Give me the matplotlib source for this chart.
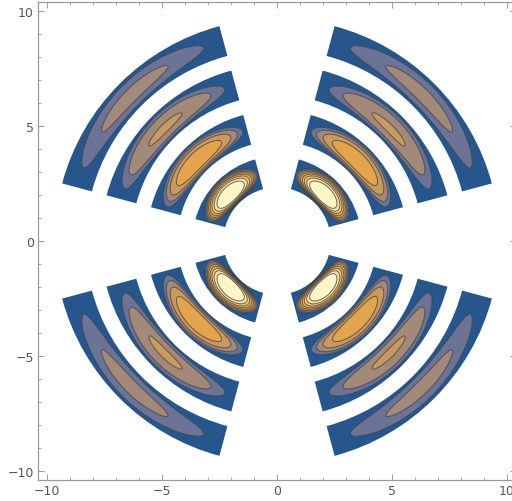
import numpy as np
import matplotlib
matplotlib.use("Agg")
import matplotlib.pyplot as plt
from matplotlib.colors import ListedColormap, BoundaryNorm
from matplotlib.patches import Wedge, PathPatch
from matplotlib.path import Path
from matplotlib.ticker import MultipleLocator

# ring edges (radius) and sector limits (degrees) of the plotted region
ring_center = [3.0, 5.0, 7.0, 9.0]
ring_inner = [2.33, 4.33, 6.33, 8.33]
ring_outer = [3.67, 5.67, 7.67, 9.67]
sector_start = [15, 105, 195, 285]
sector_span = 60

# contour levels and the fill colour of each band between them
levels = [0.0, 0.026, 0.052, 0.078, 0.104, 0.130, 0.156, 0.182, 0.208, 1.0]
fill_colors = ["#26568c", "#6b7396", "#a2897a", "#c99a60", "#e4a44d",
               "#efb258", "#f6c570", "#fbdf9e", "#fff6c8"]

ticks_major = [-10, -5, 0, 5, 10]
tick_text = ["\u221210", "\u22125", "0", "5", "10"]
lim = 10.39


def field(x, y):
    # flat-topped elliptic bump in every ring sector, fading with radius
    r = np.hypot(x, y)
    phi = np.degrees(np.arctan2(y, x)) % 90 - 45
    rc = np.asarray(ring_center)
    dr = r[..., None] - rc
    dr = np.take_along_axis(dr, np.abs(dr).argmin(axis=-1)[..., None], -1)[..., 0]
    rho = np.hypot(dr / 0.66, phi / 30.0)
    return np.clip(1 - rho ** 2.8, 0, None) / np.maximum(r, 0.5) ** 1.3


fig = plt.figure(figsize=(5.12, 5.02), dpi=100)
ax = fig.add_axes([38 / 512, 21 / 502, 478 / 512, 478 / 502])

g = np.linspace(-lim, lim, 1100)
X, Y = np.meshgrid(g, g)
Z = field(X, Y)

cmap = ListedColormap(fill_colors)
norm = BoundaryNorm(levels, cmap.N)
cf = ax.contourf(X, Y, Z, levels=levels, cmap=cmap, norm=norm, antialiased=True)
cl = ax.contour(X, Y, Z, levels=levels[1:-1], colors=[(0.18, 0.18, 0.2, 0.7)],
                linewidths=0.7)

# clip everything to the annular sectors
paths = []
for r0, r1 in zip(ring_inner, ring_outer):
    for a0 in sector_start:
        w = Wedge((0, 0), r1, a0, a0 + sector_span, width=r1 - r0)
        paths.append(w.get_path().transformed(w.get_patch_transform()))
clip = PathPatch(Path.make_compound_path(*paths), transform=ax.transData,
                 facecolor="none", edgecolor="none")
ax.add_patch(clip)
cf.set_clip_path(clip)
cl.set_clip_path(clip)

ax.set_xlim(-lim, lim)
ax.set_ylim(-lim, lim)
ax.set_aspect("equal")

ax.set_xticks(ticks_major)
ax.set_yticks(ticks_major)
ax.xaxis.set_minor_locator(MultipleLocator(1))
ax.yaxis.set_minor_locator(MultipleLocator(1))
ax.set_xticklabels(tick_text)
ax.set_yticklabels(tick_text)
ax.tick_params(which="both", direction="in", top=True, right=True,
               color="#9a9a9a", labelcolor="#555555", labelsize=9, pad=3)
ax.tick_params(which="major", length=4, width=0.7)
ax.tick_params(which="minor", length=2, width=0.6)
for s in ax.spines.values():
    s.set_color("#9a9a9a")
    s.set_linewidth(0.9)

fig.savefig("out.png", dpi=100)
